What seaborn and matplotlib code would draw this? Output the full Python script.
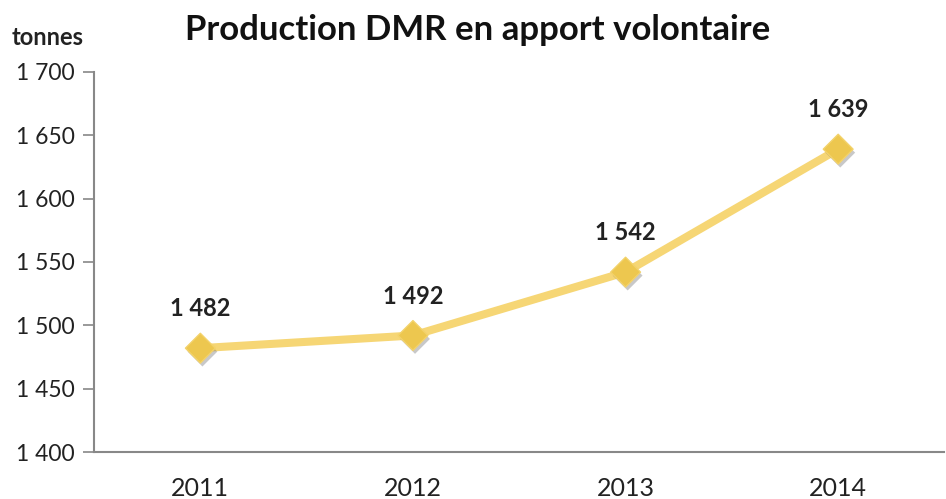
import pandas as pd
import seaborn as sns
import matplotlib.pyplot as plt
import matplotlib.patheffects as pe
from matplotlib.ticker import FuncFormatter, FixedLocator

years = ['2011', '2012', '2013', '2014']
tonnes = [1482, 1492, 1542, 1639]
y_ticks = [1400, 1450, 1500, 1550, 1600, 1650, 1700]

df = pd.DataFrame({'annee': years, 'tonnes': tonnes})

sns.set_style('white')
plt.rcParams['font.family'] = ['Lato', 'DejaVu Sans']

fig = plt.figure(figsize=(9.46, 4.99), dpi=100)
ax = fig.add_axes([0.0994, 0.094, 0.899, 0.762])

# ligne
sns.lineplot(data=df, x='annee', y='tonnes', ax=ax, color='#F6D675', linewidth=5.8, sort=False)
# marqueurs avec ombre
sc = sns.scatterplot(data=df, x='annee', y='tonnes', ax=ax, marker='D', s=230,
                     color='#EDC74F', edgecolor='#F3D26A', linewidth=1, zorder=3)
sc.collections[-1].set_path_effects([
    pe.SimplePatchShadow(offset=(1.5, -2.5), shadow_rgbFace='#777777', alpha=0.4),
    pe.Normal()])

def fmt(v, pos):
    return f"{int(v):,}".replace(',', ' ')

for i, v in enumerate(tonnes):
    ax.annotate(fmt(v, None), (i, v), xytext=(0, 20), textcoords='offset points',
                ha='center', va='bottom', fontsize=17, fontweight='bold', color='#222222')

ax.set_ylim(1400, 1700)
ax.set_yticks(y_ticks)
ax.yaxis.set_major_formatter(FuncFormatter(fmt))
ax.set_xlim(-0.5, 3.5)
ax.set_xticks(range(len(years)))
ax.set_xticklabels(years)
ax.xaxis.set_minor_locator(FixedLocator([-0.5, 0.5, 1.5, 2.5, 3.5]))
ax.tick_params(axis='x', which='major', length=0, pad=18, labelsize=18, labelcolor='#222222')
ax.tick_params(axis='x', which='minor', length=8, width=1.2, color='#888888', direction='out')
ax.tick_params(axis='y', length=8, width=1.2, color='#888888', direction='out', pad=6,
               labelsize=16.5, labelcolor='#222222', left=True)
for s in ['top', 'right']:
    ax.spines[s].set_visible(False)
for s in ['left', 'bottom']:
    ax.spines[s].set_color('#888888')
    ax.spines[s].set_linewidth(1.5)

ax.set_xlabel('')
ax.set_ylabel('')
fig.text(0.505, 0.94, 'Production DMR en apport volontaire', ha='center', va='center',
         fontsize=25, fontweight='bold', color='#111111')
fig.text(0.012, 0.925, 'tonnes', ha='left', va='center', fontsize=17, fontweight='bold',
         color='#222222')

fig.savefig('out.png', dpi=100)
